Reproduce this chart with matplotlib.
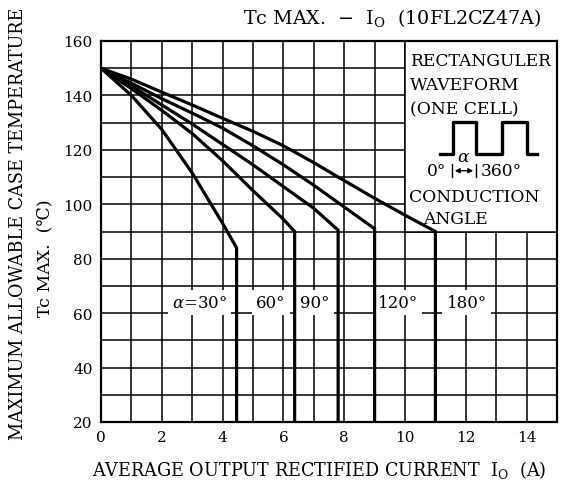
import numpy as np
import matplotlib.pyplot as plt
from matplotlib.patches import Rectangle, FancyArrowPatch

plt.rcParams['font.family'] = ['DejaVu Serif']
plt.rcParams['mathtext.fontset'] = 'dejavuserif'

# conduction angle curves: current (A) vs Tc max (deg C), last point is the knee
angles = ['30°', '60°', '90°', '120°', '180°']
io_30 = [0, 1, 2, 3, 4, 4.46]
tc_30 = [150, 140, 127.5, 111.5, 93, 84]
io_60 = [0, 1, 2, 3, 4, 5, 6, 6.37]
tc_60 = [150, 142.5, 134.5, 126, 116, 105, 94.5, 90]
io_90 = [0, 1, 2, 3, 4, 5, 6, 7, 7.8]
tc_90 = [150, 143.5, 136.5, 129.5, 122, 114.5, 106.5, 98.5, 90.5]
io_120 = [0, 1, 2, 3, 4, 5, 6, 7, 8, 9]
tc_120 = [150, 144.5, 138.8, 133.5, 128, 121.5, 114.5, 107, 99, 91]
io_180 = [0, 1, 2, 3, 4, 5, 6, 7, 8, 9, 10, 11]
tc_180 = [150, 146, 141.2, 136.5, 131.6, 126.8, 121.5, 115.3, 108.7, 102.2, 96, 90]

curves = [(io_30, tc_30), (io_60, tc_60), (io_90, tc_90),
          (io_120, tc_120), (io_180, tc_180)]
label_x = [3.25, 5.58, 7.03, 9.76, 12.03]
label_y = 64

fig = plt.figure(figsize=(5.64, 4.89), dpi=100)
ax = fig.add_axes([101/564, 1-423/489, 456/564, 381/489])

ax.set_xlim(0, 15)
ax.set_ylim(20, 160)
ax.set_xticks(np.arange(0, 15, 2))
ax.set_xticks(np.arange(0, 16, 1), minor=True)
ax.set_yticks(np.arange(20, 161, 20))
ax.set_yticks(np.arange(20, 161, 10), minor=True)
ax.grid(which='both', color='black', linewidth=1.1)
ax.tick_params(which='both', length=0, labelsize=11, pad=6)
for s in ax.spines.values():
    s.set_linewidth(1.6)

for xs, ys in curves:
    xs = list(xs) + [xs[-1]]
    ys = list(ys) + [20]
    ax.plot(xs, ys, color='black', linewidth=2.3, solid_joinstyle='miter', zorder=5)

for i, a in enumerate(angles):
    txt = r'$\alpha$=' + a if i == 0 else a
    ax.text(label_x[i], label_y, txt, ha='center', va='center', fontsize=12,
            bbox=dict(facecolor='white', edgecolor='none', pad=3), zorder=4)

# inset box with waveform legend
ax.add_patch(Rectangle((10, 90), 5, 70, facecolor='white', edgecolor='black',
                       linewidth=1.1, zorder=2.5))


def fpos(x, y):
    return x/564, 1-y/489


tkw = dict(transform=fig.transFigure, fontsize=12.3, va='center', ha='left')
fig.text(*fpos(410, 62), 'RECTANGULER', **tkw)
fig.text(*fpos(410, 86), 'WAVEFORM', **tkw)
fig.text(*fpos(410, 110), '(ONE CELL)', **tkw)
fig.text(*fpos(409, 198), 'CONDUCTION', **tkw)
fig.text(*fpos(423, 220), 'ANGLE', **tkw)

wx = [440, 452.7, 452.7, 476, 476, 501.7, 501.7, 526.7, 526.7, 536.7]
wy = [155, 155, 122.7, 122.7, 155, 155, 122.7, 122.7, 155, 155]
fig.add_artist(plt.Line2D([x/564 for x in wx], [1-y/489 for y in wy],
                          color='black', linewidth=2.4, transform=fig.transFigure))
fig.add_artist(plt.Line2D([452/564, 452/564], [1-165/489, 1-178/489],
                          color='black', linewidth=1, transform=fig.transFigure))
fig.add_artist(plt.Line2D([476/564, 476/564], [1-165/489, 1-178/489],
                          color='black', linewidth=1, transform=fig.transFigure))
fig.patches.append(FancyArrowPatch(
    fpos(452, 171.7), fpos(476, 171.7), arrowstyle='<|-|>', mutation_scale=7,
    color='black', linewidth=1, transform=fig.transFigure))
fig.text(*fpos(437, 172), '0°', transform=fig.transFigure, fontsize=12.3,
         ha='center', va='center')
fig.text(*fpos(464, 157), r'$\alpha$', transform=fig.transFigure, fontsize=12.3,
         ha='center', va='center')
fig.text(*fpos(481, 172), '360°', transform=fig.transFigure, fontsize=12.3,
         ha='left', va='center')

# title and axis labels
fig.text(*fpos(541, 18), r'Tc MAX.  $-$  I$_\mathrm{O}$  (10FL2CZ47A)',
         transform=fig.transFigure, fontsize=13.8, ha='right', va='center')
fig.text(*fpos(18, 224), 'MAXIMUM ALLOWABLE CASE TEMPERATURE',
         transform=fig.transFigure, fontsize=12.7, rotation=90,
         ha='center', va='center')
fig.text(*fpos(45, 258), 'Tc MAX.  (℃)', transform=fig.transFigure,
         fontsize=12.5, rotation=90, ha='center', va='center')
fig.text(*fpos(92, 470), r'AVERAGE OUTPUT RECTIFIED CURRENT  I$_\mathrm{O}$  (A)',
         transform=fig.transFigure, fontsize=12.7, ha='left', va='center')

fig.savefig('out.png', dpi=100)
